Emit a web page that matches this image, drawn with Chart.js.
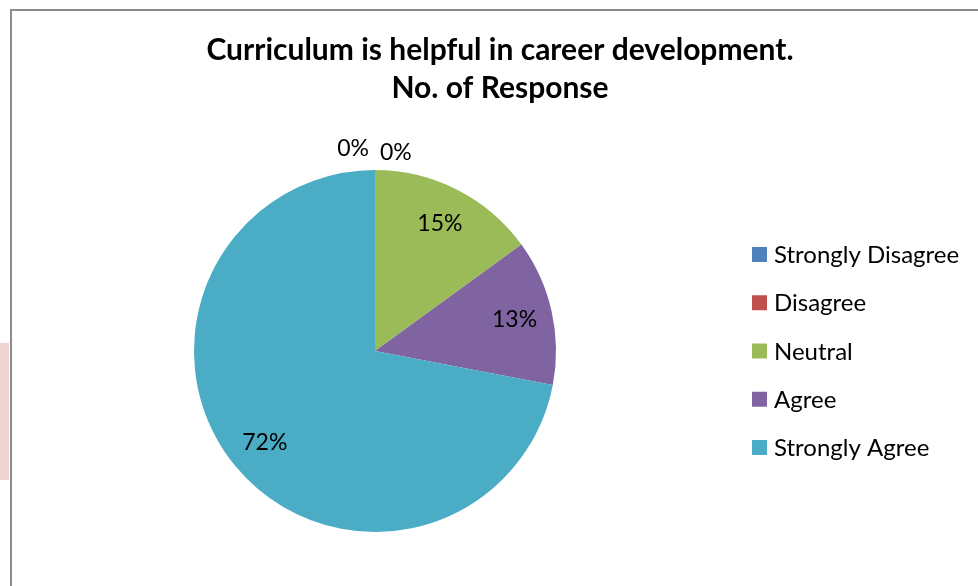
<!DOCTYPE html>
<html>
<head>
<meta charset="utf-8">
<script src="https://cdn.jsdelivr.net/npm/chart.js@4/dist/chart.umd.min.js"></script>
<style>
  html, body { margin: 0; padding: 0; background: #ffffff; }
  #wrap { position: relative; width: 978px; height: 586px; overflow: hidden; }
  #frame { position: absolute; left: 10px; top: 9px; width: 1000px; height: 600px; border-left: 2px solid #8c8c8c; border-top: 2px solid #8c8c8c; box-sizing: border-box; }
  #pink { position: absolute; left: 0; top: 343px; width: 9px; height: 137px; background: #efd3d3; }
  canvas { position: absolute; left: 0; top: 0; }
</style>
</head>
<body>
<div id="wrap">
  <div id="pink"></div>
  <div id="frame"></div>
  <canvas id="c" width="978" height="586"></canvas>
</div>
<script>
const titleLines = ["Curriculum is helpful in career development.", "No. of Response"];
const categories = ["Strongly Disagree", "Disagree", "Neutral", "Agree", "Strongly Agree"];
const responsePercent = [0, 0, 15, 13, 72];
const sliceColors = ["#4F81BD", "#C0504D", "#9BBB59", "#8064A2", "#4BACC6"];

const FONT = "Lato, 'Open Sans', sans-serif";

const titlePlugin = {
  id: 'customTitle',
  afterDraw(chart) {
    const ctx = chart.ctx;
    ctx.save();
    ctx.font = "bold 30px " + FONT;
    ctx.fillStyle = "#000000";
    ctx.textAlign = "center";
    ctx.textBaseline = "middle";
    const cx = 500, y0 = 50, step = 38;
    titleLines.forEach((t, i) => ctx.fillText(t, cx, y0 + i * step));
    ctx.restore();
  }
};

const legendPlugin = {
  id: 'customLegend',
  afterDraw(chart) {
    const ctx = chart.ctx;
    const ds = chart.data.datasets[0];
    const n = chart.data.labels.length;
    const rowStep = 48.25;
    const centerY = chart.chartArea.top + (chart.chartArea.bottom - chart.chartArea.top) / 2;
    const startY = centerY - rowStep * (n - 1) / 2;
    const boxX = chart.chartArea.right + 10;
    ctx.save();
    ctx.font = "24px " + FONT;
    ctx.textAlign = "left";
    ctx.textBaseline = "middle";
    chart.data.labels.forEach((lab, i) => {
      const y = startY + i * rowStep;
      ctx.fillStyle = ds.backgroundColor[i];
      ctx.fillRect(boxX, y - 7.5, 15, 15);
      ctx.fillStyle = "#000000";
      ctx.fillText(lab, boxX + 22, y + 1);
    });
    ctx.restore();
  }
};

const labelPlugin = {
  id: 'sliceLabels',
  afterDatasetsDraw(chart) {
    const ctx = chart.ctx;
    const meta = chart.getDatasetMeta(0);
    const data = chart.data.datasets[0].data;
    const total = data.reduce((a, b) => a + b, 0);
    ctx.save();
    ctx.font = "23px " + FONT;
    ctx.fillStyle = "#000000";
    ctx.textBaseline = "middle";
    let zeroCount = 0;
    meta.data.forEach((arc, i) => {
      const v = data[i];
      const txt = Math.round(v / total * 100) + "%";
      const p = arc.getProps(['x', 'y', 'startAngle', 'endAngle', 'outerRadius'], true);
      const mid = (p.startAngle + p.endAngle) / 2;
      if (v === 0) {
        const r = p.outerRadius + (zeroCount === 0 ? 21 : 17);
        const cx = p.x + Math.cos(mid) * r;
        const cy = p.y + Math.sin(mid) * r;
        if (zeroCount === 0) {
          ctx.textAlign = "right";
          ctx.fillText(txt, cx - 6, cy);
        } else {
          ctx.textAlign = "left";
          ctx.fillText(txt, cx + 5, cy);
        }
        zeroCount++;
      } else {
        const r = p.outerRadius * 0.79;
        ctx.textAlign = "center";
        ctx.fillText(txt, p.x + Math.cos(mid) * r, p.y + Math.sin(mid) * r);
      }
    });
    ctx.restore();
  }
};

new Chart(document.getElementById('c'), {
  type: 'pie',
  data: {
    labels: categories,
    datasets: [{
      data: responsePercent,
      backgroundColor: sliceColors,
      borderWidth: 0
    }]
  },
  options: {
    responsive: false,
    animation: false,
    layout: { padding: { left: 8, right: 236, top: 170, bottom: 54 } },
    plugins: {
      tooltip: { enabled: false },
      title: { display: false },
      legend: { display: false }
    }
  },
  plugins: [labelPlugin, titlePlugin, legendPlugin]
});
</script>
</body>
</html>
